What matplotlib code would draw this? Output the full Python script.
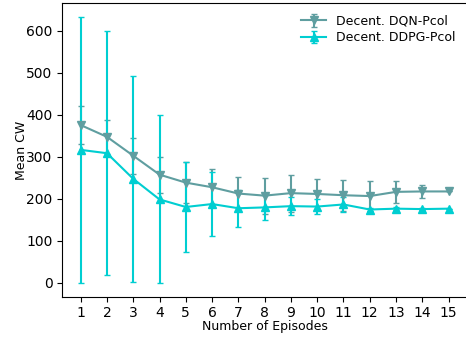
import matplotlib
matplotlib.use("Agg")
import matplotlib.pyplot as plt
import numpy as np

episodes = np.arange(1, 16)

dqn_mean = [375, 347, 302, 257, 238, 227, 212, 207, 213, 211, 208, 206, 216, 217, 217]
dqn_err = [45, 40, 43, 43, 48, 43, 39, 43, 44, 36, 37, 36, 27, 16, 0]

ddpg_mean = [316, 308, 247, 198, 180, 187, 177, 179, 182, 181, 186, 174, 176, 175, 176]
ddpg_err = [317, 290, 245, 200, 108, 76, 44, 29, 21, 18, 18, 3, 4, 2, 0]

fig = plt.figure(figsize=(4.66, 3.38), dpi=100)
# right spine sits just past the image edge in the reference
ax = fig.add_axes([0.1337, 0.122, 0.8683, 0.868])

ax.errorbar(episodes, dqn_mean, yerr=dqn_err, color='cadetblue', marker='v',
            markersize=6, capsize=2, elinewidth=1.5, label='Decent. DQN-Pcol')
ax.errorbar(episodes, ddpg_mean, yerr=ddpg_err, color='darkturquoise', marker='^',
            markersize=6, capsize=2, elinewidth=1.5, label='Decent. DDPG-Pcol')

ax.set_xticks(episodes)
ax.set_yticks([0, 100, 200, 300, 400, 500, 600])
ax.set_xlabel('Number of Episodes', fontsize=9, labelpad=0)
ax.set_ylabel('Mean CW', fontsize=9, labelpad=-1)
ax.legend(loc='upper right', frameon=False, fontsize=9, labelspacing=0.3)

fig.savefig('out.png', dpi=100)
